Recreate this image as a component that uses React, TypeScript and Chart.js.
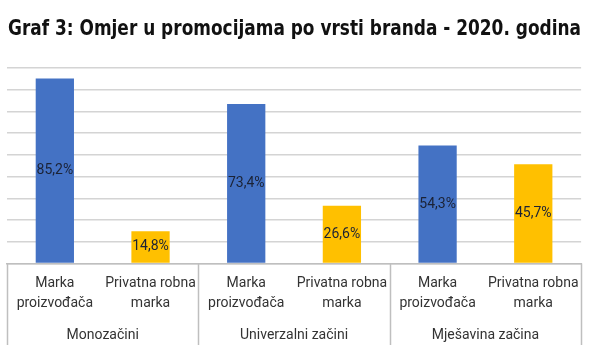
import React, { useEffect, useRef } from "react";
import { Chart, registerables } from "chart.js";

Chart.register(...registerables);

const titleText = "Graf 3: Omjer u promocijama po vrsti branda - 2020. godina";
const categories: string[][] = [
  ["Marka", "proizvođača"],
  ["Privatna robna", "marka"],
  ["Marka", "proizvođača"],
  ["Privatna robna", "marka"],
  ["Marka", "proizvođača"],
  ["Privatna robna", "marka"],
];
const groups = ["Monozačini", "Univerzalni začini", "Mješavina začina"];
const values = [85.2, 14.8, 73.4, 26.6, 54.3, 45.7];
const barColors = ["#4472C4", "#FFC000", "#4472C4", "#FFC000", "#4472C4", "#FFC000"];

const fmt = (v: number) => v.toFixed(1).replace(".", ",") + "%";

const extrasPlugin = {
  id: "extras",
  afterDraw(chart: any) {
    const ctx = chart.ctx;
    const area = chart.chartArea;
    // title
    ctx.save();
    ctx.font = 'bold 22px "Liberation Sans Narrow", "DejaVu Sans Condensed", "Liberation Sans", sans-serif';
    ctx.fillStyle = "#111111";
    ctx.textBaseline = "alphabetic";
    const w = ctx.measureText(titleText).width;
    const target = 573;
    ctx.translate(8, 35);
    ctx.scale(target / w, 1);
    ctx.fillText(titleText, 0, 0);
    ctx.restore();

    // data labels
    const meta = chart.getDatasetMeta(0);
    ctx.save();
    ctx.font = '14px Roboto, "Noto Sans", sans-serif';
    ctx.fillStyle = "#1b2235";
    ctx.textAlign = "center";
    ctx.textBaseline = "middle";
    meta.data.forEach((bar: any, i: number) => {
      const y = (bar.y + bar.base) / 2;
      ctx.fillText(fmt(values[i]), bar.x, y);
    });
    ctx.restore();

    // group separators
    const xs = chart.scales.x;
    const x2 = chart.scales.x2;
    ctx.save();
    ctx.strokeStyle = "#bfbfbf";
    ctx.lineWidth = 1.5;
    const bounds = [-0.5, 1.5, 3.5, 5.5];
    bounds.forEach((b) => {
      const px = Math.round(xs.getPixelForValue(b)) + 0.5;
      ctx.beginPath();
      ctx.moveTo(px, area.bottom);
      ctx.lineTo(px, x2.bottom - 2);
      ctx.stroke();
    });
    ctx.restore();
  },
};

export default function App() {
  const ref = useRef<HTMLCanvasElement | null>(null);
  useEffect(() => {
    document.body.style.margin = "0";
    const chart = new Chart(ref.current as HTMLCanvasElement, {
      type: "bar",
      data: {
        labels: categories as any,
        datasets: [
          {
            data: values,
            backgroundColor: barColors,
            barPercentage: 0.4,
            categoryPercentage: 1,
          },
        ],
      },
      options: {
        animation: false,
        responsive: false,
        layout: { padding: { top: 68, left: 7, right: 6, bottom: 12 } },
        plugins: { legend: { display: false }, tooltip: { enabled: false }, title: { display: false } },
        scales: {
          x: {
            type: "category",
            position: "bottom",
            grid: { display: false, drawTicks: false },
            border: { display: true, color: "#bfbfbf", width: 1.5 },
            ticks: {
              color: "#333333",
              font: { family: "Roboto, 'Noto Sans', sans-serif", size: 14, lineHeight: "20px" },
              padding: 10,
              maxRotation: 0,
              autoSkip: false,
            },
          },
          x2: {
            type: "category",
            position: "bottom",
            labels: groups,
            offset: true,
            grid: { display: false, drawTicks: false },
            border: { display: false },
            ticks: {
              color: "#333333",
              font: { family: "Roboto, 'Noto Sans', sans-serif", size: 14, lineHeight: 1.4 },
              padding: 2,
              maxRotation: 0,
              autoSkip: false,
            },
          },
          y: {
            min: 0,
            max: 90,
            ticks: { display: false, stepSize: 10 },
            grid: { color: "#d4d4d4", lineWidth: 1.5, drawTicks: false },
            border: { display: false },
          },
        },
      },
      plugins: [extrasPlugin],
    } as any);
    return () => chart.destroy();
  }, []);
  return (
    <div style={{ width: 589, height: 359 }}>
      <canvas ref={ref} width={589} height={359} style={{ display: "block" }} />
    </div>
  );
}
